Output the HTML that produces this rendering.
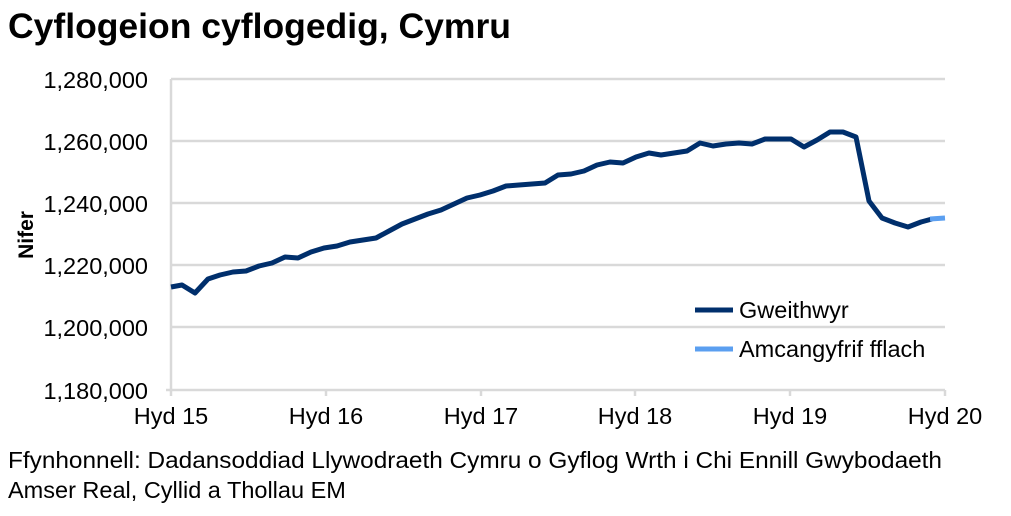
<!DOCTYPE html>
<html><head><meta charset="utf-8"><style>
body{margin:0;background:#fff;width:1011px;height:511px;overflow:hidden;font-family:"Liberation Sans",Arial,sans-serif}
</style></head><body>
<svg width="1011" height="511" xmlns="http://www.w3.org/2000/svg" font-family="Liberation Sans, Arial, sans-serif">
<text x="8" y="38" font-size="35.5" font-weight="bold" fill="#000">Cyflogeion cyflogedig, Cymru</text>
<g stroke="#d9d9d9" stroke-width="2.5">
<line x1="171" y1="79" x2="945" y2="79"/>
<line x1="171" y1="141" x2="945" y2="141"/>
<line x1="171" y1="203" x2="945" y2="203"/>
<line x1="171" y1="265" x2="945" y2="265"/>
<line x1="171" y1="327" x2="945" y2="327"/>
<line x1="166" y1="390" x2="945" y2="390"/>
<line x1="171" y1="79" x2="171" y2="396"/>
<line x1="326" y1="390" x2="326" y2="396"/>
<line x1="481" y1="390" x2="481" y2="396"/>
<line x1="635" y1="390" x2="635" y2="396"/>
<line x1="790" y1="390" x2="790" y2="396"/>
<line x1="945" y1="390" x2="945" y2="396"/>
</g>
<g font-size="23.5" fill="#000" text-anchor="end">
<text x="148" y="88">1,280,000</text>
<text x="148" y="150">1,260,000</text>
<text x="148" y="212">1,240,000</text>
<text x="148" y="274">1,220,000</text>
<text x="148" y="336">1,200,000</text>
<text x="148" y="399">1,180,000</text>
</g>
<text transform="translate(33,235) rotate(-90)" font-size="21" font-weight="bold" text-anchor="middle">Nifer</text>
<g font-size="23.5" fill="#000" text-anchor="middle">
<text x="171" y="424">Hyd 15</text>
<text x="326" y="424">Hyd 16</text>
<text x="481" y="424">Hyd 17</text>
<text x="635" y="424">Hyd 18</text>
<text x="790" y="424">Hyd 19</text>
<text x="945" y="424">Hyd 20</text>
</g>
<polyline fill="none" stroke="#002f6c" stroke-width="5" stroke-linejoin="round" points="171,287 182,285 195,293 208,279 220,275 233,272 246,271 259,266 272,263 285,257 298,258 311,252 324,248 337,246 350,242 363,240 376,238 389,231 402,224 415,219 428,214 441,210 454,204 467,198 480,195 493,191 506,186 519,185 532,184 545,183 558,175 571,174 584,171 597,165 610,162 623,163 636,157 649,153 661,155 674,153 687,151 700,143 713,146 726,144 739,143 752,144 765,139 778,139 791,139 804,147 817,140 830,132 843,132 856,137 869,201 882,218 895,223 908,227 921,222 932,219"/>
<polyline fill="none" stroke="#5b9ff0" stroke-width="5" points="930,219 945,218"/>
<line x1="695" y1="310" x2="733" y2="310" stroke="#002f6c" stroke-width="5"/>
<text x="739" y="318" font-size="23.5">Gweithwyr</text>
<line x1="695" y1="349" x2="733" y2="349" stroke="#5b9ff0" stroke-width="5"/>
<text x="739" y="357" font-size="23.5">Amcangyfrif fflach</text>
<text x="8" y="468" font-size="23.5" textLength="934" lengthAdjust="spacingAndGlyphs">Ffynhonnell: Dadansoddiad Llywodraeth Cymru o Gyflog Wrth i Chi Ennill Gwybodaeth</text>
<text x="8" y="498" font-size="23.5">Amser Real, Cyllid a Thollau EM</text>
</svg>
</body></html>
